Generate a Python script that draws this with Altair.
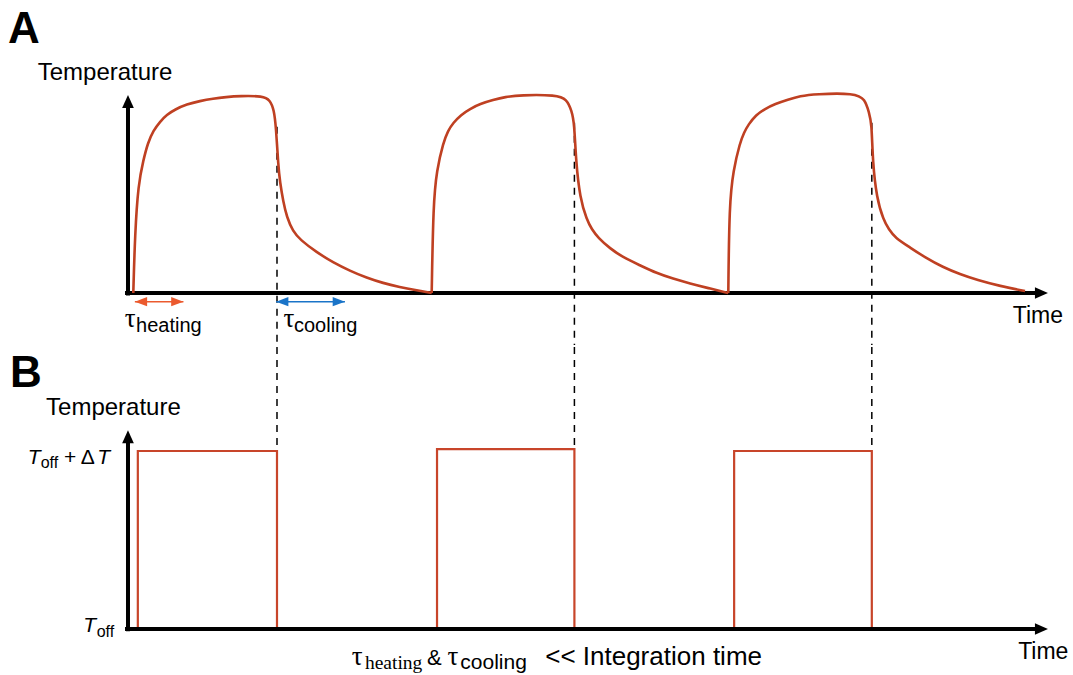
import altair as alt
import pandas as pd

# ---------------------------------------------------------------
# Time runs in arbitrary units; one heating/cooling cycle = 10 units.
# Panel A: temperature response of the sample (normalised, plateau ~ 1)
# ---------------------------------------------------------------
cycle1_t = [0.178, 0.235, 0.346, 0.513, 0.671, 0.849, 1.074, 1.299, 1.577, 1.970,
            2.416, 2.852, 3.289, 3.758, 4.530, 4.765, 4.899, 4.966, 5.044, 5.101,
            5.211, 5.326, 5.537, 5.772, 6.332, 6.879, 7.450, 8.010, 8.557, 9.128,
            9.631, 10.191]
cycle1_T = [0.0, 0.30, 0.55, 0.67, 0.76, 0.82, 0.865, 0.90, 0.927, 0.953,
            0.97, 0.982, 0.99, 0.995, 0.995, 0.975, 0.925, 0.84, 0.64, 0.56,
            0.46, 0.385, 0.31, 0.27, 0.205, 0.155, 0.112, 0.077, 0.05, 0.03,
            0.015, 0.0]

cycle2_t = [10.191, 10.245, 10.359, 10.581, 10.738, 10.916, 11.174, 11.477, 11.812,
            12.258, 12.651, 13.154, 14.386, 14.721, 14.889, 14.976, 15.034, 15.168,
            15.393, 15.570, 15.772, 16.174, 16.611, 17.181, 17.742, 18.289, 18.859,
            19.463, 20.144]
cycle2_T = [0.0, 0.45, 0.62, 0.76, 0.82, 0.86, 0.90, 0.93, 0.955,
            0.975, 0.99, 1.0, 1.0, 0.98, 0.92, 0.86, 0.66, 0.48,
            0.37, 0.32, 0.28, 0.225, 0.18, 0.14, 0.10, 0.072, 0.048,
            0.025, 0.0]

cycle3_t = [20.144, 20.178, 20.312, 20.537, 20.671, 20.815, 21.074, 21.376, 21.711,
            22.148, 22.550, 23.054, 24.396, 24.732, 24.866, 24.956, 24.990, 25.124,
            25.346, 25.537, 25.738, 26.242, 26.745, 27.349, 27.919, 28.490, 29.262,
            30.101]
cycle3_T = [0.0, 0.45, 0.62, 0.76, 0.81, 0.85, 0.90, 0.93, 0.955,
            0.977, 0.995, 1.005, 1.01, 0.98, 0.91, 0.86, 0.66, 0.48,
            0.37, 0.32, 0.28, 0.23, 0.18, 0.13, 0.095, 0.066, 0.035,
            0.01]

# Panel B: ideal square-wave temperature (T_off -> T_off + dT)
pulse_on = [0.33, 10.37, 20.34]
pulse_off = [5.0, 14.98, 24.96]
pulse_level = [1.0, 1.01, 1.0]

# temperature of the measured curve where the heater switches off
cut_T = [0.84, 0.86, 0.86]

# characteristic time constants, drawn as double arrows under panel A
tau_heating_start, tau_heating = 0.23, 1.63
tau_cooling_start, tau_cooling = 4.97, 2.31

# ---------------------------------------------------------------
W = 1073
HA, HB = 345, 330
X_DOM = [-4.295, 31.711]
YA_DOM = [-0.2626, 1.4798]
YB_DOM = [-0.2697, 1.5843]

CURVE = "#BF4022"
PULSE = "#C8452A"
HEAT = "#EB5A2E"
COOL = "#1A74C8"
SANS = "Liberation Sans"
SERIF = "Liberation Serif"

xs = alt.Scale(domain=X_DOM, nice=False, zero=False)
ya = alt.Scale(domain=YA_DOM, nice=False, zero=False)
yb = alt.Scale(domain=YB_DOM, nice=False, zero=False)

ARROW_R = "M0,0L-2,-0.9L-2,0.9Z"
ARROW_U = "M0,0L-0.9,2L0.9,2Z"
HEAD_R = "M0,0L-2,-0.75L-2,0.75Z"
HEAD_L = "M0,0L2,-0.75L2,0.75Z"


def X(field="t"):
    return alt.X(f"{field}:Q", scale=xs, axis=None)


def Y(scale, field="v"):
    return alt.Y(f"{field}:Q", scale=scale, axis=None)


def text_layer(rows, scale, font=SANS, size=22, weight="normal", style="normal",
               color="#000000"):
    df = pd.DataFrame(rows, columns=["t", "v", "label"])
    return alt.Chart(df).mark_text(
        font=font, fontSize=size, fontWeight=weight, fontStyle=style,
        align="left", baseline="alphabetic", color=color,
    ).encode(x=X(), y=Y(scale), text="label:N")


def axes(scale, y_top, y_bottom):
    xa = pd.DataFrame({"t": [-0.1], "t2": [30.6], "v": [0.0]})
    yax = pd.DataFrame({"t": [0.0], "v": [y_bottom], "v2": [y_top - 0.03]})
    heads = pd.DataFrame({"t": [30.87], "v": [0.0]})
    heads_up = pd.DataFrame({"t": [0.0], "v": [y_top]})
    return [
        alt.Chart(xa).mark_rule(color="black", strokeWidth=4).encode(
            x=X(), x2="t2:Q", y=Y(scale)),
        alt.Chart(yax).mark_rule(color="black", strokeWidth=4).encode(
            x=X(), y=Y(scale), y2="v2:Q"),
        alt.Chart(heads).mark_point(shape=ARROW_R, size=169, filled=True,
                                    color="black", opacity=1).encode(x=X(), y=Y(scale)),
        alt.Chart(heads_up).mark_point(shape=ARROW_U, size=169, filled=True,
                                       color="black", opacity=1).encode(x=X(), y=Y(scale)),
    ]


def tau_arrow(start, length, color):
    df = pd.DataFrame({"t": [start], "t2": [start + length], "v": [-0.044]})
    left = pd.DataFrame({"t": [start], "v": [-0.044]})
    right = pd.DataFrame({"t": [start + length], "v": [-0.044]})
    return [
        alt.Chart(df).mark_rule(color=color, strokeWidth=1.6).encode(
            x=X(), x2="t2:Q", y=Y(ya)),
        alt.Chart(left).mark_point(shape=HEAD_L, size=150, filled=True, color=color,
                                   opacity=1).encode(x=X(), y=Y(ya)),
        alt.Chart(right).mark_point(shape=HEAD_R, size=150, filled=True, color=color,
                                    opacity=1).encode(x=X(), y=Y(ya)),
    ]


# ---------------- panel A ----------------
curve = pd.concat([
    pd.DataFrame({"t": cycle1_t, "v": cycle1_T, "cycle": 1}),
    pd.DataFrame({"t": cycle2_t, "v": cycle2_T, "cycle": 2}),
    pd.DataFrame({"t": cycle3_t, "v": cycle3_T, "cycle": 3}),
], ignore_index=True)
curve["i"] = range(len(curve))

cuts_a = pd.DataFrame({"t": pulse_off, "v": cut_T, "v2": YA_DOM[0]})

layers_a = [
    alt.Chart(cuts_a).mark_rule(color="black", strokeWidth=1.5, strokeDash=[7, 6]).encode(
        x=X(), y=Y(ya), y2="v2:Q"),
]
layers_a += axes(ya, 1.0, -0.012)
layers_a += [
    alt.Chart(curve).mark_line(color=CURVE, strokeWidth=2.6, interpolate="basis").encode(
        x=X(), y=Y(ya), detail="cycle:N", order="i:Q"),
]
layers_a += tau_arrow(tau_heating_start, tau_heating, HEAT)
layers_a += tau_arrow(tau_cooling_start, tau_cooling, COOL)
layers_a += [
    text_layer([[-4.03, 1.263, "A"]], ya, size=44, weight="bold"),
    text_layer([[-3.03, 1.076, "Temperature"]], ya, size=24),
    text_layer([[29.69, -0.15, "Time"]], ya, size=23),
    text_layer([[-0.11, -0.172, "τ"], [5.22, -0.172, "τ"]], ya, font=SERIF, size=27),
    text_layer([[0.27, -0.195, "heating"], [5.57, -0.195, "cooling"]], ya, size=20),
]
panel_a = alt.layer(*layers_a).properties(width=W, height=HA)

# ---------------- panel B ----------------
pulses = pd.DataFrame({"t": pulse_on, "t2": pulse_off, "v": 0.0, "v2": pulse_level})
cuts_b = pd.DataFrame({"t": pulse_off, "v": YB_DOM[1], "v2": pulse_level})

layers_b = [
    alt.Chart(cuts_b).mark_rule(color="black", strokeWidth=1.5, strokeDash=[7, 6]).encode(
        x=X(), y=Y(yb), y2="v2:Q"),
    alt.Chart(pulses).mark_rect(filled=False, stroke=PULSE, strokeWidth=2.2).encode(
        x=X(), x2="t2:Q", y=Y(yb), y2="v2:Q"),
]
layers_b += axes(yb, 1.116, -0.012)
layers_b += [
    text_layer([[-3.96, 1.36, "B"]], yb, size=44, weight="bold"),
    text_layer([[-2.75, 1.204, "Temperature"]], yb, size=24),
    text_layer([[29.87, -0.171, "Time"]], yb, size=23),
    # level labels: T_off + ΔT and T_off
    text_layer([[-3.36, 0.929, "T"], [-1.03, 0.929, "T"], [-1.50, -0.017, "T"]], yb,
               size=21, style="italic"),
    text_layer([[-2.93, 0.907, "off"], [-1.05, -0.045, "off"]], yb, size=16),
    text_layer([[-2.15, 0.929, "+ Δ"]], yb, size=21),
    # note under the time axis
    text_layer([[7.51, -0.2, "τ"], [10.72, -0.2, "τ"]], yb, font=SERIF, size=27),
    text_layer([[7.95, -0.223, "heating"]], yb, font=SERIF, size=19.5),
    text_layer([[10.03, -0.2, "&"]], yb, size=22),
    text_layer([[11.15, -0.223, "cooling"]], yb, size=21),
    text_layer([[14.0, -0.2, "<< Integration time"]], yb, size=26),
]
panel_b = alt.layer(*layers_b).properties(width=W, height=HB)

chart = alt.vconcat(panel_a, panel_b, spacing=0).properties(
    padding=0, background="white"
).configure_view(stroke=None)

chart.save("out.html", embed_options={"renderer": "svg", "actions": False})
